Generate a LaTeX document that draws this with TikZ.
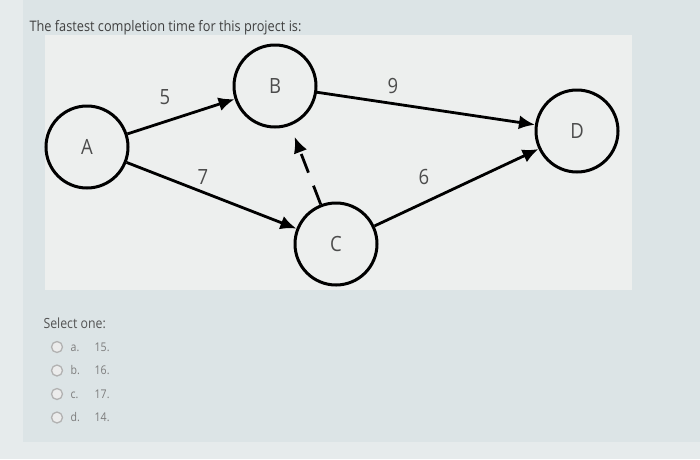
\documentclass[tikz,border=0pt]{standalone}
\usepackage{fontspec}
\setmainfont{Open Sans}
\newfontfamily\narrowfont[FakeStretch=0.88]{Open Sans}
\usetikzlibrary{arrows.meta,arrows}
\usetikzlibrary{positioning}
\definecolor{screenbg}{HTML}{DCE4E6}
\definecolor{stripbg}{HTML}{E6EBEC}
\definecolor{panelbg}{HTML}{EDEFEE}
\definecolor{textgray}{HTML}{404040}
\definecolor{optgray}{HTML}{7C7C7C}
\tikzset{
  event/.style={circle, draw, line width=3pt, minimum size=82pt, inner sep=0pt, text=black!70, font=\narrowfont\fontsize{21}{21}\selectfont},
  arrow/.style={draw, -{Latex[length=16pt,width=14pt]}, line width=2.8pt},
  dummy/.style={arrow, dash pattern=on 20pt off 14pt, shorten >=12pt},
  weight/.style={text=black!70, font=\narrowfont\fontsize{21}{21}\selectfont},
  radio/.style={circle, draw=black!30, fill=white!85!gray, line width=1.3pt, minimum size=11pt, inner sep=0pt},
  answer/.style={anchor=west, text=optgray, font=\narrowfont\fontsize{12}{12}\selectfont}
  }

\begin{document}
\begin{tikzpicture}[x=1pt, y=-1pt]
	% Frame
	\useasboundingbox (0,0) rectangle (700,459);
	\fill[screenbg] (0,0) rectangle (700,459);
	\fill[stripbg] (0,0) rectangle (23,459);
	\fill[stripbg] (0,442) rectangle (700,459);
	\fill[panelbg] (45,35) rectangle (632,290);
	\node[anchor=west, text=textgray, font=\narrowfont\fontsize{14.5}{14.5}\selectfont] (title) at (26,28) {The fastest completion time for this project is:};

	% Nodes
	\node[event] (A) at (87,147) {A};
	\node[event] (B) at (275,86) {B};
	\node[event] (C) at (336,244) {C};
	\node[event] (D) at (577,131) {D};

	% Arrow
	\draw [arrow] (A) -- (B);
	\draw [arrow] (A) -- (C);
	\draw [arrow] (B) -- (D);
	\draw [arrow] (C) -- (D);
	\draw [dummy] (C) -- (B);

	% Durations
	\node[weight] (w5) at (165,97) {5};
	\node[weight] (w9) at (393,86) {9};
	\node[weight] (w7) at (203,177) {7};
	\node[weight] (w6) at (424,177) {6};

	% Choices
	\node[anchor=west, text=textgray!90, font=\narrowfont\fontsize{14}{14}\selectfont] (select) at (40,323) {Select one:};
	\node[radio] (ra) at (57,347) {};
	\node[answer, right=4pt of ra] (oa) {\makebox[24pt][l]{a.}15.};
	\node[radio] (rb) at (57,370.5) {};
	\node[answer, right=4pt of rb] (ob) {\makebox[24pt][l]{b.}16.};
	\node[radio] (rc) at (57,394) {};
	\node[answer, right=4pt of rc] (oc) {\makebox[24pt][l]{c.}17.};
	\node[radio] (rd) at (57,417.5) {};
	\node[answer, right=4pt of rd] (od) {\makebox[24pt][l]{d.}14.};
\end{tikzpicture}
\end{document}
